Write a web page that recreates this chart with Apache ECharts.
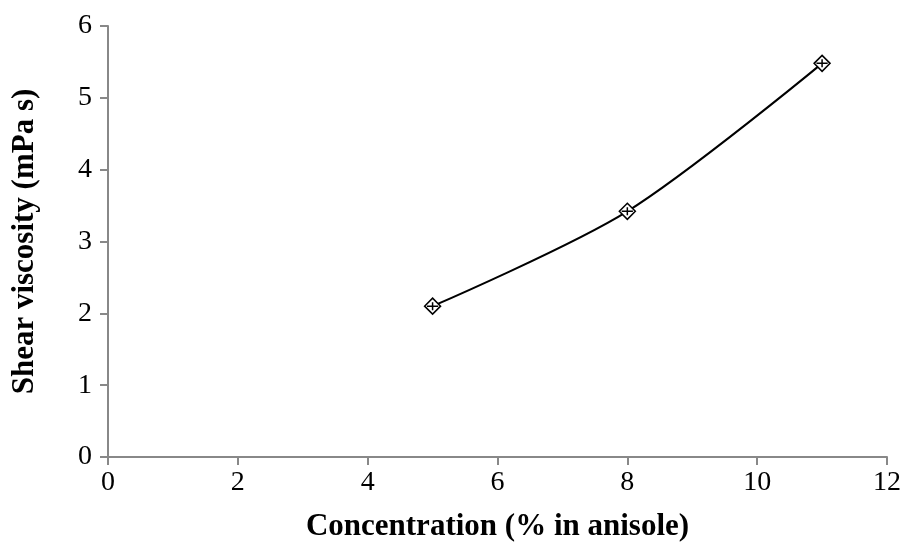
<!DOCTYPE html>
<html>
<head>
<meta charset="utf-8">
<script src="https://cdn.jsdelivr.net/npm/echarts@6/dist/echarts.min.js"></script>
<style>
  html, body { margin: 0; padding: 0; background: #fff; }
  #chart { width: 907px; height: 552px; }
</style>
</head>
<body>
<div id="chart"></div>
<script>
// concentration (% in anisole) vs shear viscosity (mPa s)
const concentration = [5, 8, 11]
const viscosity = [2.1, 3.42, 5.48]

const font = 'Liberation Serif'
const axisColor = '#888'

const chart = echarts.init(document.getElementById('chart'))
chart.setOption({
  animation: false,
  grid: { left: 108, right: 20, top: 26, bottom: 95 },
  xAxis: {
    type: 'value',
    min: 0, max: 12, interval: 2,
    name: 'Concentration (% in anisole)',
    nameLocation: 'middle',
    nameGap: 54,
    nameTextStyle: { fontFamily: font, fontSize: 31, fontWeight: 'bold', color: '#000' },
    axisLine: { show: true, lineStyle: { color: axisColor, width: 2 } },
    axisTick: { show: true, length: 8, lineStyle: { color: axisColor, width: 2 } },
    axisLabel: { fontFamily: font, fontSize: 28, color: '#000', margin: 12 },
    splitLine: { show: false }
  },
  yAxis: {
    type: 'value',
    min: 0, max: 6, interval: 1,
    name: 'Shear viscosity (mPa s)',
    nameLocation: 'middle',
    nameGap: 68,
    nameTextStyle: { fontFamily: font, fontSize: 31, fontWeight: 'bold', color: '#000' },
    axisLine: { show: true, lineStyle: { color: axisColor, width: 2 } },
    axisTick: { show: true, length: 8, lineStyle: { color: axisColor, width: 2 } },
    axisLabel: { fontFamily: font, fontSize: 28, color: '#000', margin: 16 },
    splitLine: { show: false }
  },
  series: [
    {
      type: 'line',
      data: concentration.map((c, i) => [c, viscosity[i]]),
      smooth: 0.3,
      lineStyle: { color: '#000', width: 2 },
      symbol: 'path://M0,-1 L1,0 L0,1 L-1,0 Z M-0.7,0 L0.7,0 M0,-0.5 L0,0.5',
      symbolSize: 16,
      itemStyle: { color: '#fff', borderColor: '#000', borderWidth: 1.5 },
      z: 3
    }
  ]
})
</script>
</body>
</html>
